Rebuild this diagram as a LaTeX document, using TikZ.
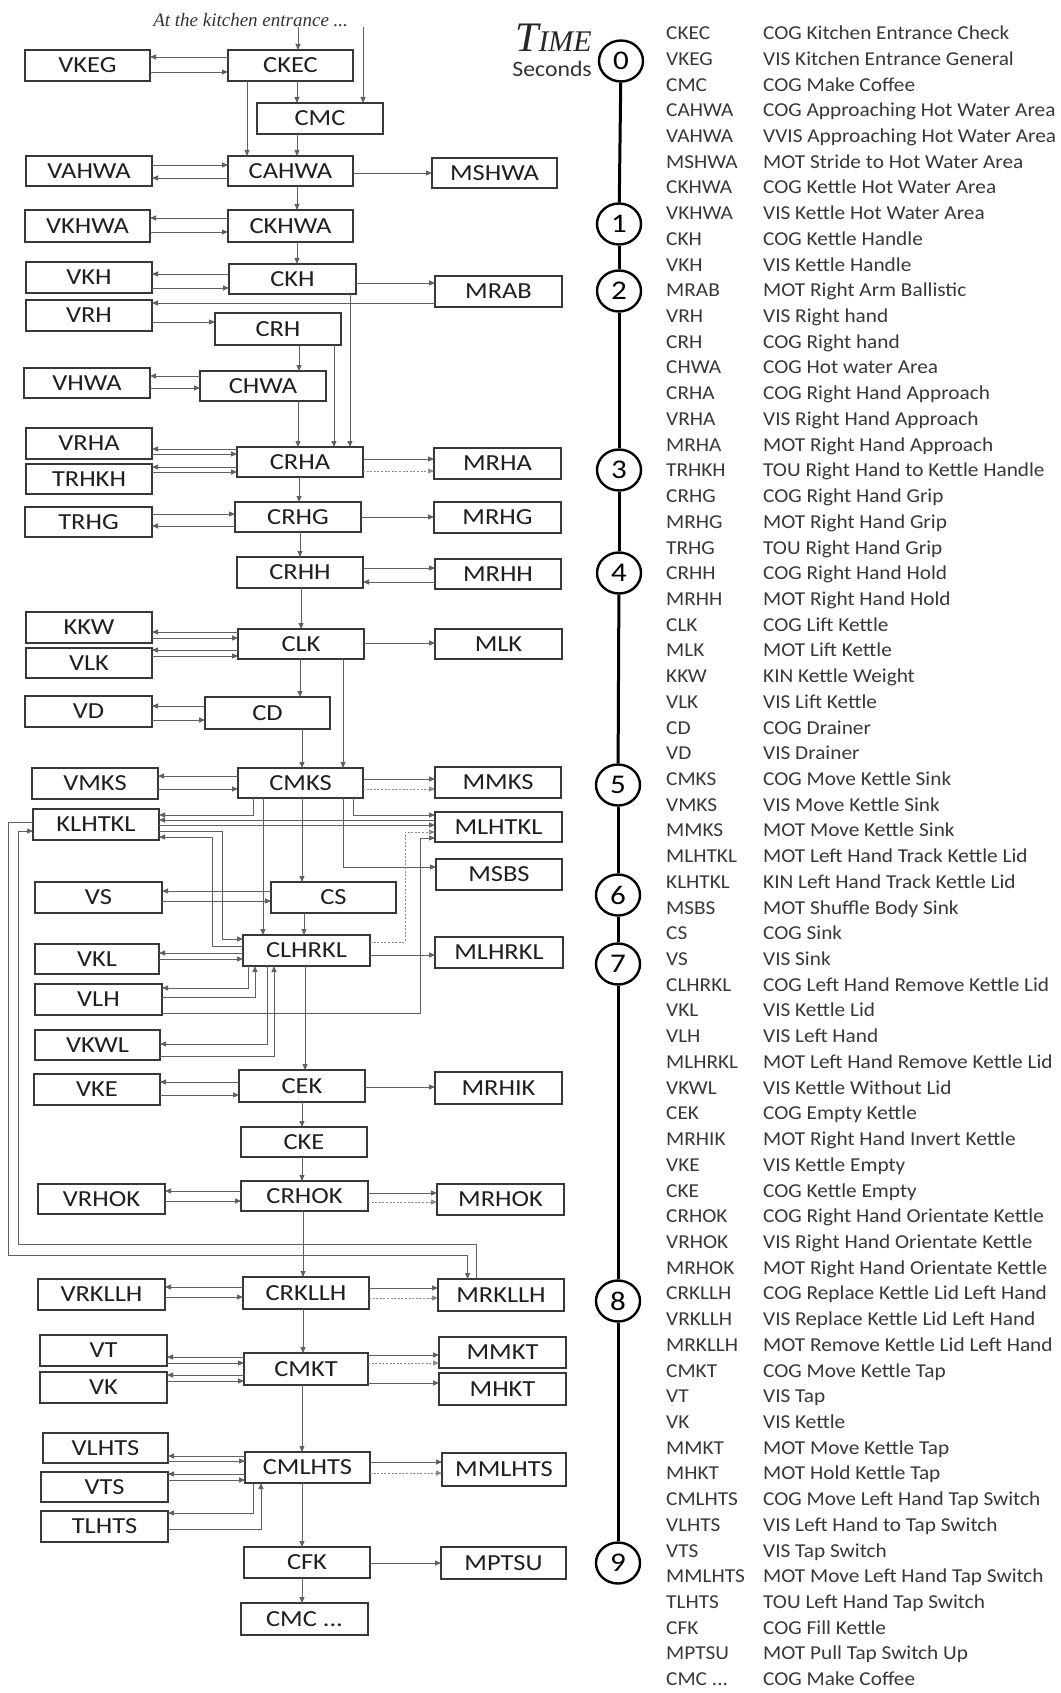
\documentclass[tikz,border=0pt]{standalone}
\usepackage{fontspec}
\setmainfont{Carlito}
\newfontfamily\bxf{Carlito}[FakeStretch=1.15]
\newfontfamily\lsf{Carlito}[FakeStretch=1.08]
\newfontfamily\tmsf{Liberation Serif}
\usetikzlibrary{arrows.meta,shapes.geometric}
\newcommand\bxnode[6]{\node[bx,minimum width={(#4-#2)*1pt},minimum height={(#5-#3)*1pt}] (#1) at ({(#2+#4)/2},{(#3+#5)/2}) {#6};}
\newcommand\cR[3]{\draw[con] (#1.east |- 0,#3) -- (#2.west |- 0,#3);}
\newcommand\cL[3]{\draw[con] (#1.west |- 0,#3) -- (#2.east |- 0,#3);}
\newcommand\cRd[3]{\draw[dcon] (#1.east |- 0,#3) -- (#2.west |- 0,#3);}
\newcommand\cD[3]{\draw[con] (#1.south -| #3,0) -- (#2.north -| #3,0);}
\newcommand\tdots{...}
\begin{document}
\begin{tikzpicture}[x=1pt,y=-1pt,
  bx/.style={draw=black!78, line width=1.3pt, inner sep=0pt, outer sep=0pt, font=\bxf\fontsize{23}{23}\selectfont, text=black!88},
  con/.style={draw=black!62, line width=0.9pt, -{Triangle[length=6pt,width=5pt]}},
  dcon/.style={con, dash pattern=on 2pt off 1.6pt, draw=black!45},
  tc/.style={ellipse, draw=black, line width=2.4pt, minimum width=44pt, minimum height=41pt, inner sep=0pt, font=\bxf\fontsize{27}{27}\selectfont},
  tl/.style={line width=3pt, draw=black},
  lst/.style={inner sep=0pt, font=\lsf\fontsize{19.7}{20}\selectfont, text=black!78}]
\fill[white] (0,0) rectangle (1060,1693);
\useasboundingbox (0,0) rectangle (1060,1693);

% title texts
\node[inner sep=0pt, anchor=base, font=\tmsf\itshape\fontsize{19}{19}\selectfont, text=black!80] (start) at (250.6,27) {At the kitchen entrance \tdots};
\node[inner sep=0pt, anchor=base east, text=black!85] (timeT) at (592,51.8) {\tmsf\itshape\fontsize{42}{42}\selectfont T\fontsize{30}{30}\selectfont IME};
\node[inner sep=0pt, anchor=base east, font=\lsf\fontsize{22}{22}\selectfont, text=black!80] (secs) at (592,76.6) {Seconds};

% boxes
\bxnode{VKEG}{25}{50}{150}{81}{VKEG}
\bxnode{CKEC}{228}{50}{353}{81}{CKEC}
\bxnode{CMC}{257}{103}{383}{134}{CMC}
\bxnode{VAHWA}{26}{156}{152}{186}{VAHWA}
\bxnode{CAHWA}{228}{156}{353}{186}{CAHWA}
\bxnode{MSHWA}{432}{158}{557}{188}{MSHWA}
\bxnode{VKHWA}{25}{210}{150}{242}{VKHWA}
\bxnode{CKHWA}{228}{210}{353}{242}{CKHWA}
\bxnode{VKH}{26}{262}{152}{293}{VKH}
\bxnode{CKH}{229}{264}{356}{294}{CKH}
\bxnode{MRAB}{435}{276}{562}{307}{MRAB}
\bxnode{VRH}{26}{300}{152}{331}{VRH}
\bxnode{CRH}{215}{313}{341}{345}{CRH}
\bxnode{VHWA}{24}{368}{150}{398}{VHWA}
\bxnode{CHWA}{200}{371}{326}{401}{CHWA}
\bxnode{VRHA}{26}{428}{152}{459}{VRHA}
\bxnode{TRHKH}{26}{464}{152}{494}{TRHKH}
\bxnode{CRHA}{237}{447}{363}{477}{CRHA}
\bxnode{MRHA}{434}{448}{561}{479}{MRHA}
\bxnode{TRHG}{25}{507}{152}{537}{TRHG}
\bxnode{CRHG}{235}{502}{361}{532}{CRHG}
\bxnode{MRHG}{434}{502}{561}{533}{MRHG}
\bxnode{CRHH}{237}{557}{363}{588}{CRHH}
\bxnode{MRHH}{435}{559}{561}{589}{MRHH}
\bxnode{KKW}{26}{612}{152}{643}{KKW}
\bxnode{VLK}{26}{648}{152}{678}{VLK}
\bxnode{CLK}{238}{629}{364}{659}{CLK}
\bxnode{MLK}{435}{629}{562}{659}{MLK}
\bxnode{VD}{25}{696}{152}{727}{VD}
\bxnode{CD}{205}{697}{330}{729}{CD}
\bxnode{VMKS}{32}{768}{158}{799}{VMKS}
\bxnode{CMKS}{238}{768}{363}{798}{CMKS}
\bxnode{MMKS}{435}{767}{561}{798}{MMKS}
\bxnode{KLHTKL}{33}{809}{159}{840}{KLHTKL}
\bxnode{MLHTKL}{435}{812}{562}{842}{MLHTKL}
\bxnode{MSBS}{436}{859}{562}{890}{MSBS}
\bxnode{VS}{35}{882}{162}{913}{VS}
\bxnode{CS}{271}{882}{396}{913}{CS}
\bxnode{CLHRKL}{243}{935}{370}{966}{CLHRKL}
\bxnode{VKL}{35}{944}{159}{974}{VKL}
\bxnode{MLHRKL}{435}{937}{563}{968}{MLHRKL}
\bxnode{VLH}{35}{984}{162}{1015}{VLH}
\bxnode{VKWL}{35}{1030}{160}{1060}{VKWL}
\bxnode{VKE}{34}{1074}{160}{1105}{VKE}
\bxnode{CEK}{239}{1070}{365}{1102}{CEK}
\bxnode{MRHIK}{435}{1072}{562}{1104}{MRHIK}
\bxnode{CKE}{241}{1127}{367}{1157}{CKE}
\bxnode{VRHOK}{38}{1184}{165}{1214}{VRHOK}
\bxnode{CRHOK}{241}{1181}{368}{1211}{CRHOK}
\bxnode{MRHOK}{437}{1184}{564}{1215}{MRHOK}
\bxnode{VRKLLH}{38}{1279}{165}{1310}{VRKLLH}
\bxnode{CRKLLH}{243}{1277}{369}{1309}{CRKLLH}
\bxnode{MRKLLH}{438}{1279}{564}{1311}{MRKLLH}
\bxnode{VT}{40}{1335}{167}{1366}{VT}
\bxnode{VK}{40}{1372}{167}{1403}{VK}
\bxnode{CMKT}{244}{1353}{368}{1385}{CMKT}
\bxnode{MMKT}{439}{1337}{566}{1368}{MMKT}
\bxnode{MHKT}{439}{1373}{566}{1405}{MHKT}
\bxnode{VLHTS}{43}{1433}{168}{1463}{VLHTS}
\bxnode{VTS}{41}{1472}{168}{1502}{VTS}
\bxnode{TLHTS}{41}{1511}{168}{1542}{TLHTS}
\bxnode{CMLHTS}{245}{1452}{370}{1483}{CMLHTS}
\bxnode{MMLHTS}{442}{1453}{566}{1486}{MMLHTS}
\bxnode{CFK}{244}{1547}{370}{1578}{CFK}
\bxnode{MPTSU}{441}{1547}{566}{1579}{MPTSU}
\bxnode{CMCe}{241}{1603}{368}{1635}{CMC \tdots}

% connectors
\draw[con] (start.south -| 298,0) -- (CKEC.north -| 298,0);
\draw[con] (start.south -| 363,0) -- (CMC.north -| 363,0);
\cL{CKEC}{VKEG}{57}
\cR{VKEG}{CKEC}{72}
\cD{CKEC}{CMC}{297}
\cD{CKEC}{CAHWA}{247}
\cD{CMC}{CAHWA}{297}
\cR{VAHWA}{CAHWA}{165}
\cL{CAHWA}{VAHWA}{178}
\cR{CAHWA}{MSHWA}{173}
\cD{CAHWA}{CKHWA}{297}
\cL{CKHWA}{VKHWA}{218}
\cR{VKHWA}{CKHWA}{232}
\cD{CKHWA}{CKH}{297}
\cL{CKH}{VKH}{274}
\cR{VKH}{CKH}{288}
\cR{CKH}{MRAB}{283}
\cL{MRAB}{VRH}{303}
\cR{VRH}{CRH}{322}
\cD{CRH}{CHWA}{299}
\cL{CHWA}{VHWA}{376}
\cR{VHWA}{CHWA}{388}
\cD{CHWA}{CRHA}{298}
\cD{CRH}{CRHA}{334}
\cD{CKH}{CRHA}{350}
\cL{CRHA}{VRHA}{449}
\cR{VRHA}{CRHA}{454}
\cL{CRHA}{TRHKH}{467}
\cR{TRHKH}{CRHA}{472}
\cR{CRHA}{MRHA}{459}
\cRd{CRHA}{MRHA}{471}
\cD{CRHA}{CRHG}{299}
\cR{TRHG}{CRHG}{514}
\cL{CRHG}{TRHG}{526}
\cR{CRHG}{MRHG}{517}
\cD{CRHG}{CRHH}{300}
\cR{CRHH}{MRHH}{568}
\cL{MRHH}{CRHH}{582}
\cD{CRHH}{CLK}{301}
\cL{CLK}{KKW}{632}
\cR{KKW}{CLK}{638}
\cL{CLK}{VLK}{650}
\cR{VLK}{CLK}{656}
\cR{CLK}{MLK}{643}
\cD{CLK}{CD}{300}
\cD{CLK}{CMKS}{343}
\cL{CD}{VD}{706}
\cR{VD}{CD}{720}
\cD{CD}{CMKS}{302}
\cL{CMKS}{VMKS}{776}
\cR{VMKS}{CMKS}{789}
\cR{CMKS}{MMKS}{779}
\cRd{CMKS}{MMKS}{789}
\draw[con] (CMKS.south -| 253,0) |- (KLHTKL.east |- 0,815);
\cL{MLHTKL}{KLHTKL}{820}
\cR{KLHTKL}{MLHTKL}{825}
\draw[con] (KLHTKL.east |- 0,831) -| (222,939) -- (CLHRKL.west |- 0,939);
\draw[con] (CLHRKL.west |- 0,946) -| (212,837) -- (KLHTKL.east |- 0,837);
\cD{CMKS}{CLHRKL}{263}
\cD{CMKS}{CS}{302}
\draw[con] (CMKS.south -| 343,0) |- (MSBS.west |- 0,867);
\draw[con] (CMKS.south -| 353,0) |- (MLHTKL.west |- 0,815);
\cL{CS}{VS}{891}
\cR{VS}{CS}{901}
\cD{CS}{CLHRKL}{304}
\cL{CLHRKL}{VKL}{953}
\cR{VKL}{CLHRKL}{959}
\draw[con] (CLHRKL.south -| 248,0) |- (VLH.east |- 0,988);
\draw[con] (VLH.east |- 0,997) -| (CLHRKL.south -| 255,0);
\draw[con] (CLHRKL.south -| 267,0) |- (VKWL.east |- 0,1044);
\draw[con] (VKWL.east |- 0,1056) -| (CLHRKL.south -| 274,0);
\draw[con] (VLH.east |- 0,1013) -| (420,838) -- (MLHTKL.west |- 0,838);
\draw[dcon] (CLHRKL.east |- 0,942) -| (405,832) -- (MLHTKL.west |- 0,832);
\cR{CLHRKL}{MLHRKL}{955}
\cD{CLHRKL}{CEK}{305}
\cL{CEK}{VKE}{1082}
\cR{VKE}{CEK}{1095}
\cR{CEK}{MRHIK}{1087}
\cD{CEK}{CKE}{302}
\cD{CKE}{CRHOK}{302}
\cL{CRHOK}{VRHOK}{1191}
\cR{VRHOK}{CRHOK}{1201}
\cR{CRHOK}{MRHOK}{1193}
\cRd{CRHOK}{MRHOK}{1202}
\cD{CRHOK}{CRKLLH}{303}
\draw[con] (KLHTKL.west |- 0,822) -| (8.4,1255) -| (MRKLLH.north -| 467.6,0);
\draw[con] (MRKLLH.north -| 476.4,0) |- (18.4,1244) |- (KLHTKL.west |- 0,831);
\cL{CRKLLH}{VRKLLH}{1287}
\cR{VRKLLH}{CRKLLH}{1297}
\cR{CRKLLH}{MRKLLH}{1288}
\cRd{CRKLLH}{MRKLLH}{1298}
\cD{CRKLLH}{CMKT}{303}
\cL{CMKT}{VT}{1357}
\cR{VT}{CMKT}{1363}
\cL{CMKT}{VK}{1375}
\cR{VK}{CMKT}{1381}
\cR{CMKT}{MMKT}{1355}
\cRd{CMKT}{MMKT}{1363}
\cR{CMKT}{MHKT}{1383}
\cD{CMKT}{CMLHTS}{302}
\cL{CMLHTS}{VLHTS}{1456}
\cR{VLHTS}{CMLHTS}{1461}
\cL{CMLHTS}{VTS}{1474}
\cR{VTS}{CMLHTS}{1480}
\draw[con] (CMLHTS.south -| 253,0) |- (TLHTS.east |- 0,1513);
\draw[con] (TLHTS.east |- 0,1529) -| (CMLHTS.south -| 261,0);
\cR{CMLHTS}{MMLHTS}{1462}
\cRd{CMLHTS}{MMLHTS}{1473}
\cD{CMLHTS}{CFK}{302}
\cR{CFK}{MPTSU}{1563}
\cD{CFK}{CMCe}{302}

% timeline
\node[tc] (t0) at (621,61) {0};
\node[tc] (t1) at (619,224) {1};
\node[tc] (t2) at (619,291) {2};
\node[tc] (t3) at (619,470) {3};
\node[tc] (t4) at (619,573) {4};
\node[tc] (t5) at (618,785) {5};
\node[tc] (t6) at (618,895) {6};
\node[tc] (t7) at (618,964) {7};
\node[tc] (t8) at (618,1301) {8};
\node[tc] (t9) at (618,1563) {9};
\foreach \a/\b in {t0/t1,t1/t2,t2/t3,t3/t4,t4/t5,t5/t6,t6/t7,t7/t8,t8/t9}
  \draw[tl] (\a) -- (\b);

% legend list
\foreach \ab/\de [count=\i] in {CKEC/COG Kitchen Entrance Check,
VKEG/VIS Kitchen Entrance General,
CMC/COG Make Coffee,
CAHWA/COG Approaching Hot Water Area,
VAHWA/VVIS Approaching Hot Water Area,
MSHWA/MOT Stride to Hot Water Area,
CKHWA/COG Kettle Hot Water Area,
VKHWA/VIS Kettle Hot Water Area,
CKH/COG Kettle Handle,
VKH/VIS Kettle Handle,
MRAB/MOT Right Arm Ballistic,
VRH/VIS Right hand,
CRH/COG Right hand,
CHWA/COG Hot water Area,
CRHA/COG Right Hand Approach,
VRHA/VIS Right Hand Approach,
MRHA/MOT Right Hand Approach,
TRHKH/TOU Right Hand to Kettle Handle,
CRHG/COG Right Hand Grip,
MRHG/MOT Right Hand Grip,
TRHG/TOU Right Hand Grip,
CRHH/COG Right Hand Hold,
MRHH/MOT Right Hand Hold,
CLK/COG Lift Kettle,
MLK/MOT Lift Kettle,
KKW/KIN Kettle Weight,
VLK/VIS Lift Kettle,
CD/COG Drainer,
VD/VIS Drainer,
CMKS/COG Move Kettle Sink,
VMKS/VIS Move Kettle Sink,
MMKS/MOT Move Kettle Sink,
MLHTKL/MOT Left Hand Track Kettle Lid,
KLHTKL/KIN Left Hand Track Kettle Lid,
MSBS/MOT Shuffle Body Sink,
CS/COG Sink,
VS/VIS Sink,
CLHRKL/COG Left Hand Remove Kettle Lid,
VKL/VIS Kettle Lid,
VLH/VIS Left Hand,
MLHRKL/MOT Left Hand Remove Kettle Lid,
VKWL/VIS Kettle Without Lid,
CEK/COG Empty Kettle,
MRHIK/MOT Right Hand Invert Kettle,
VKE/VIS Kettle Empty,
CKE/COG Kettle Empty,
CRHOK/COG Right Hand Orientate Kettle,
VRHOK/VIS Right Hand Orientate Kettle,
MRHOK/MOT Right Hand Orientate Kettle,
CRKLLH/COG Replace Kettle Lid Left Hand,
VRKLLH/VIS Replace Kettle Lid Left Hand,
MRKLLH/MOT Remove Kettle Lid Left Hand,
CMKT/COG Move Kettle Tap,
VT/VIS Tap,
VK/VIS Kettle,
MMKT/MOT Move Kettle Tap,
MHKT/MOT Hold Kettle Tap,
CMLHTS/COG Move Left Hand Tap Switch,
VLHTS/VIS Left Hand to Tap Switch,
VTS/VIS Tap Switch,
MMLHTS/MOT Move Left Hand Tap Switch,
TLHTS/TOU Left Hand Tap Switch,
CFK/COG Fill Kettle,
MPTSU/MOT Pull Tap Switch Up,
CMC \tdots/COG Make Coffee}
{
  \pgfmathsetmacro\yy{39.6+(\i-1)*25.72}
  \node[lst, anchor=base west] (ab\i) at (666,\yy) {\ab};
  \node[lst, anchor=base west] (de\i) at (763,\yy) {\de};
}
\end{tikzpicture}
\end{document}
